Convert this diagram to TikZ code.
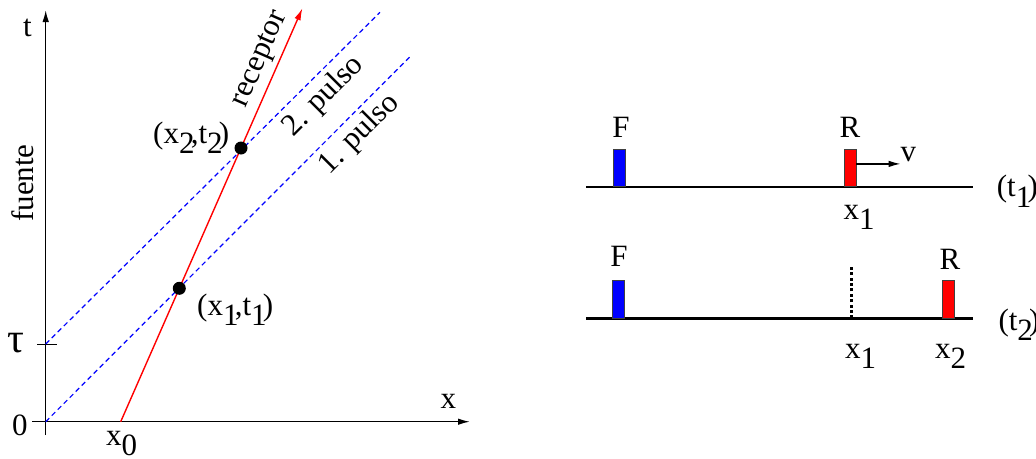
\documentclass[tikz,border=0pt]{standalone}
\usepackage{fontspec}
\setmainfont{Liberation Serif}[Ligatures=TeX]
\newfontfamily\labelfont{Liberation Serif}[Scale=1.0]
\usetikzlibrary{arrows.meta}
\definecolor{pulsecol}{HTML}{0000FF}
\definecolor{recvcol}{HTML}{FF0000}
\newcommand{\lowsub}[1]{\raisebox{-.35em}{#1}\kern-.12em}
\tikzset{>={Latex[length=12pt,width=6.5pt]},line width=1.5pt,
  every node/.style={font=\labelfont\fontsize{31}{36}\selectfont,inner sep=0pt},
  axis/.style={->,line width=1.5pt},
  worldline/.style={->,draw=recvcol,line width=1.4pt},
  pulse/.style={draw=pulsecol,dash pattern=on 5pt off 3.5pt,line width=1.2pt},
  event/.style={circle,fill=black,minimum size=13pt},
  ground/.style={line width=2.4pt},
  emitter/.style={draw=black!75,fill=pulsecol,line width=.8pt,
    minimum width=11.7pt,minimum height=37.4pt,anchor=south},
  detector/.style={emitter,fill=recvcol},
  oldpos/.style={dash pattern=on 3pt off 2.4pt,line width=3pt}}

\begin{document}
\begin{tikzpicture}[x=1pt,y=-1pt]
\useasboundingbox (0,0) rectangle (1036,458);
\coordinate (O) at (45.7,421.7);
\coordinate (tau) at (45.7,344);
\coordinate (x0) at (120.7,421.7);
\coordinate (rtop) at (302.4,8.3);
\coordinate (end1) at (411.7,55);
\coordinate (end2) at (380,12.3);
\draw[axis] (32,421.7) -- (470,421.7);
\draw[axis] (45.7,435) -- (45.7,10);
\draw (37,344) -- (57,344);
\draw[pulse] (O) -- (end1);
\draw[pulse] (tau) -- (end2);
\draw[worldline] (x0) -- (rtop);
\node[event] (ev1) at (179.3,288.3) {};
\node[event] (ev2) at (241,148) {};
\node[anchor=base] (tlab) at (27.5,36.7) {t};
\node[anchor=base] (zero) at (20,435) {0};
\node[anchor=base,font=\labelfont\fontsize{42}{46}\selectfont] (taulab) at (15.5,352) {τ};
\node[anchor=base] (xlab) at (448.3,408) {x};
\node[anchor=base west] (x0lab) at (106,445) {x\lowsub{0}};
\node[anchor=base west] (ev2lab) at (153,143) {(x\lowsub{2},t\lowsub{2})};
\node[anchor=base west] (ev1lab) at (197,315) {(x\lowsub{1},t\lowsub{1})};
\node[anchor=base,rotate=66.3] (reclab) at (265.8,61.7) {receptor};
\node[anchor=base,rotate=45] (p2lab) at (329,101.7) {2. pulso};
\node[anchor=base,rotate=45] (p1lab) at (364.7,140) {1. pulso};
\node[anchor=base,rotate=90] (srclab) at (33.3,183) {fuente};

\foreach \y in {186.7,318.3} \draw[ground] (586,\y) -- (973,\y);
\node[emitter] (F1) at (619.2,186.7) {};
\node[detector] (R1) at (850.2,186.7) {};
\node[emitter] (F2) at (618.2,318.3) {};
\node[detector] (R2) at (948.5,318.3) {};
\node[anchor=base] (F1lab) at (621,137.3) {F};
\node[anchor=base] (R1lab) at (850,137.3) {R};
\node[anchor=base west] (vlab) at (900.5,161) {v};
\coordinate (vstart) at ([yshift=3.7pt]R1.east);
\draw[->,line width=1.2pt] (vstart) -- (vstart -| vlab.west);
\node[anchor=base west] (xa) at (843.3,219) {x\lowsub{1}};
\node[anchor=base west] (t1lab) at (996.7,196.7) {(t\lowsub{1})};
\node[anchor=base] (F2lab) at (619,266.7) {F};
\node[anchor=base] (R2lab) at (950,269.3) {R};
\coordinate (x1old) at (851,318.3);
\draw[oldpos] (x1old) -- ++(0,-53.3);
\node[anchor=base west] (xb) at (845,358) {x\lowsub{1}};
\node[anchor=base west] (xc) at (935,358) {x\lowsub{2}};
\node[anchor=base west] (t2lab) at (998.3,330) {(t\lowsub{2})};
\end{tikzpicture}
\end{document}
